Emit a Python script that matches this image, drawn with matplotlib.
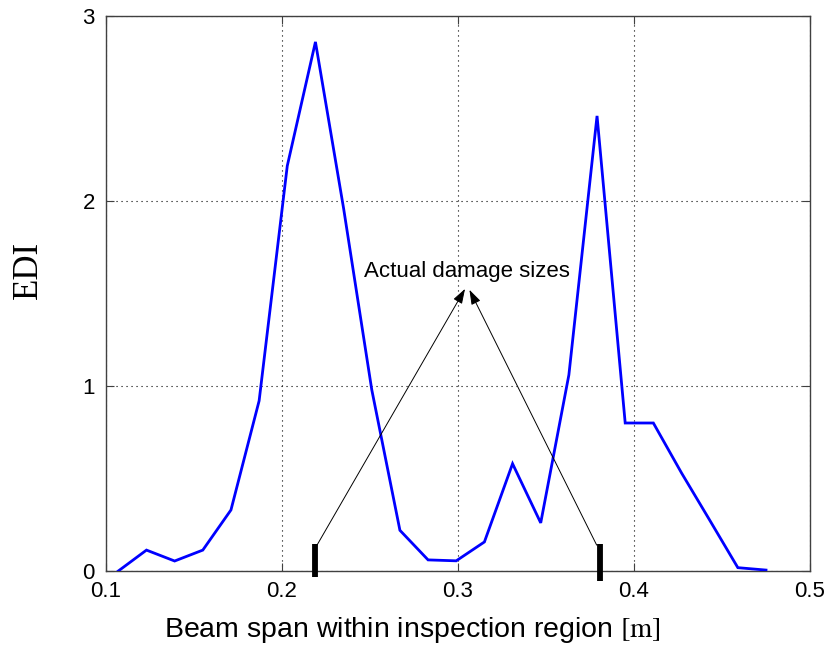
import matplotlib
matplotlib.use("Agg")
import matplotlib.pyplot as plt

# ---- data ----
span_x = [0.107, 0.123, 0.139, 0.155, 0.171, 0.187, 0.203, 0.219, 0.235, 0.251,
          0.267, 0.283, 0.299, 0.315, 0.331, 0.347, 0.363, 0.379, 0.395, 0.411,
          0.427, 0.443, 0.459, 0.475]
edi = [0.0, 0.113, 0.054, 0.113, 0.33, 0.92, 2.19, 2.86, 1.96, 0.98,
       0.22, 0.06, 0.055, 0.157, 0.58, 0.26, 1.06, 2.46, 0.80, 0.80,
       0.53, 0.275, 0.018, 0.005]
damage_x = [0.2185, 0.3807]
damage_bar_bottom = [-0.033, -0.054]
damage_bar_top = [0.146, 0.146]
arrow_start_x = [0.2199, 0.3788]
arrow_start_y = [0.14, 0.14]
arrow_tip_x = [0.3040, 0.3065]
arrow_tip_y = [1.525, 1.52]
label_x, label_y = 0.3053, 1.59
annotation_text = "Actual damage sizes"
xticks = [0.1, 0.2, 0.3, 0.4, 0.5]
yticks = [0, 1, 2, 3]

plt.rcParams['font.family'] = ['Liberation Sans', 'DejaVu Sans']
plt.rcParams['mathtext.fontset'] = 'stix'

fig = plt.figure(figsize=(8.32, 6.54), dpi=100)
W, H = 832, 654
ax = fig.add_axes([106 / W, (H - 571) / H, 704 / W, 555 / H])

ax.plot(span_x, edi, color=(0, 0, 1), lw=2.0, solid_joinstyle='miter', zorder=3)

ax.set_xlim(0.1, 0.5)
ax.set_ylim(0, 3)
ax.set_xticks(xticks)
ax.set_yticks(yticks)
ax.set_xticklabels([f"{v:g}" for v in xticks])
ax.set_yticklabels([f"{v:g}" for v in yticks])
ax.tick_params(direction='in', length=5.5, width=0.8, color='0.25',
               top=True, right=True, labelsize=16, pad=7)
ax.tick_params(axis='y', pad=8)
for s in ax.spines.values():
    s.set_color('0.25')
    s.set_linewidth(1.0)
ax.grid(True, color='k', linestyle=(0, (1, 3.5)), linewidth=0.8)

# damage bars
for x, b, t in zip(damage_x, damage_bar_bottom, damage_bar_top):
    ax.plot([x, x], [b, t], color='k', lw=4.2, solid_capstyle='butt',
            clip_on=False, zorder=5)

# arrows
for sx, sy, tx, ty in zip(arrow_start_x, arrow_start_y, arrow_tip_x, arrow_tip_y):
    ax.annotate('', xy=(tx, ty), xytext=(sx, sy),
                arrowprops=dict(arrowstyle='-|>,head_length=0.9,head_width=0.3',
                                color='k', lw=0.7, shrinkA=0, shrinkB=0),
                zorder=4)

ax.text(label_x, label_y, annotation_text, ha='center', va='baseline',
        fontsize=16, zorder=6)

fig.text(412 / W, (H - 637) / H,
         r"Beam span within inspection region $[\mathrm{m}]$",
         ha='center', va='baseline', fontsize=20.5)
fig.text(28 / W, (H - 270) / H, "EDI", rotation=90, ha='center', va='center',
         fontsize=25, family=['Liberation Serif', 'DejaVu Serif'])

fig.savefig("out.png", dpi=100)
